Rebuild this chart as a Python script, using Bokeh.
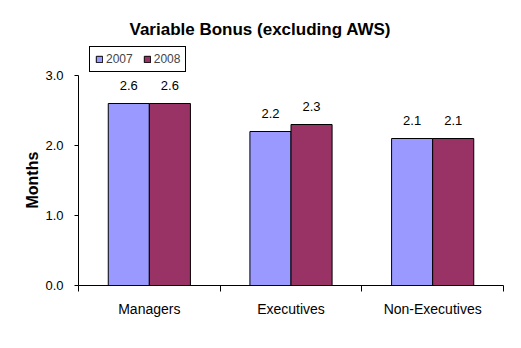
from bokeh.plotting import figure
from bokeh.models import (Range1d, FixedTicker, PrintfTickFormatter, Legend, LegendItem,
                          ColumnDataSource, Title)
from bokeh.core.properties import value
from bokeh.embed import file_html
from bokeh.resources import INLINE

categories = ["Managers", "Executives", "Non-Executives"]
series_names = ["2007", "2008"]
values_2007 = [2.6, 2.2, 2.1]
values_2008 = [2.6, 2.3, 2.1]
colors = ["#9999FF", "#993366"]
y_ticks = [0.0, 1.0, 2.0, 3.0]

FONT = "Liberation Sans"

p = figure(width=521, height=348, output_backend="svg", toolbar_location=None,
           x_range=Range1d(0, len(categories)), y_range=Range1d(0, 3.5),
           min_border_left=78, min_border_right=18, min_border_top=40, min_border_bottom=63)
p.outline_line_color = None
p.xgrid.visible = False
p.ygrid.visible = False
p.background_fill_color = "white"
p.border_fill_color = "white"

p.title = Title(text="Variable Bonus (excluding AWS)", align="left", offset=51,
                text_font=FONT, text_font_size="17px", text_font_style="bold",
                text_color="black", standoff=4)

bw = 0.29
centers = [i + 0.5 for i in range(len(categories))]
x07 = [c - bw / 2 for c in centers]
x08 = [c + bw / 2 for c in centers]

src07 = ColumnDataSource(dict(x=x07, top=values_2007, lab=[f"{v:.1f}" for v in values_2007]))
src08 = ColumnDataSource(dict(x=x08, top=values_2008, lab=[f"{v:.1f}" for v in values_2008]))

r07 = p.vbar(x="x", top="top", width=bw, source=src07, fill_color=colors[0],
             line_color="black", line_width=1)
r08 = p.vbar(x="x", top="top", width=bw, source=src08, fill_color=colors[1],
             line_color="black", line_width=1)

for src in (src07, src08):
    p.text(x="x", y="top", text="lab", source=src, text_align="center",
           text_baseline="alphabetic", y_offset=-18, text_font=value(FONT),
           text_font_size="13px", text_color="black")

# axes
xa = p.xaxis[0]
xa.ticker = FixedTicker(ticks=centers, minor_ticks=list(range(len(categories) + 1)))
xa.major_label_overrides = {c: name for c, name in zip(centers, categories)}
xa.major_tick_line_color = None
xa.minor_tick_line_color = "black"
xa.minor_tick_in = 0
xa.minor_tick_out = 6
xa.axis_line_color = "black"
xa.major_label_text_font = FONT
xa.major_label_text_font_size = "14px"
xa.major_label_text_color = "black"
xa.major_label_standoff = 9

ya = p.yaxis[0]
ya.bounds = (0, 3)
ya.ticker = FixedTicker(ticks=y_ticks)
ya.formatter = PrintfTickFormatter(format="%.1f")
ya.minor_tick_line_color = None
ya.major_tick_in = 0
ya.major_tick_out = 4
ya.axis_line_color = "black"
ya.major_tick_line_color = "black"
ya.major_label_text_font = FONT
ya.major_label_text_font_size = "13px"
ya.major_label_text_color = "black"
ya.major_label_standoff = 11

ylab = Title(text="Months", align="left", offset=77, text_font=FONT,
             text_font_size="16px", text_font_style="bold", text_color="black",
             standoff=4)
p.add_layout(ylab, "left")

legend = Legend(items=[LegendItem(label=series_names[0], renderers=[r07]),
                       LegendItem(label=series_names[1], renderers=[r08])],
                orientation="horizontal", location=(11, 213),
                border_line_color="black", border_line_width=1, border_line_alpha=1,
                background_fill_color="white", background_fill_alpha=1,
                label_text_font=FONT, label_text_font_size="12px",
                glyph_width=8, glyph_height=8, label_height=14, label_standoff=3,
                spacing=10, padding=5, margin=0)
p.add_layout(legend, "center")

open("out.html", "w").write(file_html(p, INLINE))
